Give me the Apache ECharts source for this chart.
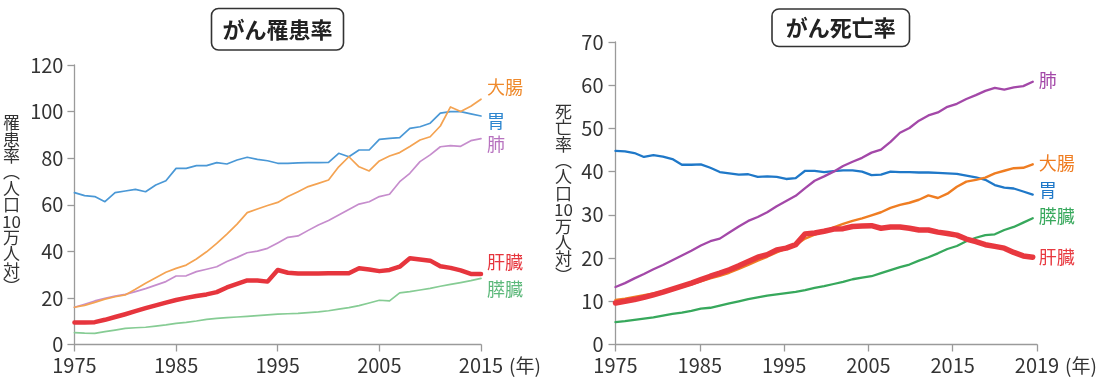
<!DOCTYPE html>
<html><head><meta charset="utf-8">
<script src="https://cdn.jsdelivr.net/npm/echarts@6/dist/echarts.min.js"></script>
<style>html,body{margin:0;padding:0;background:#fff}#c{width:1100px;height:381px}</style>
</head><body><div id="c"></div>
<script>
// ---------- data ----------
const YEARS_L = [1975,1976,1977,1978,1979,1980,1981,1982,1983,1984,1985,1986,1987,1988,1989,1990,1991,1992,1993,1994,1995,1996,1997,1998,1999,2000,2001,2002,2003,2004,2005,2006,2007,2008,2009,2010,2011,2012,2013,2014,2015];
const YEARS_R = [1975,1976,1977,1978,1979,1980,1981,1982,1983,1984,1985,1986,1987,1988,1989,1990,1991,1992,1993,1994,1995,1996,1997,1998,1999,2000,2001,2002,2003,2004,2005,2006,2007,2008,2009,2010,2011,2012,2013,2014,2015,2016,2017,2018,2019];

// がん罹患率 (incidence)
const INC_COLON   = [16.0,16.8,18.1,19.5,20.5,21.3,23.7,26.3,28.7,31.0, 32.7,34.1,36.7,39.8,43.4,47.4,51.7,56.6,58.2,59.7, 61.0,63.5,65.6,67.8,69.2,70.6,76.3,80.6,76.3,74.5, 78.8,80.9,82.4,85.0,87.8,89.2,93.8,102.0,100.0,102.3, 105.3];
const INC_STOMACH = [65.2,63.9,63.5,61.3,65.2,65.9,66.6,65.6,68.5,70.3, 75.6,75.6,76.8,76.8,78.1,77.5,79.2,80.4,79.5,78.9, 77.8,77.8,78.0,78.1,78.1,78.2,82.1,80.6,83.5,83.5, 88.1,88.5,88.8,92.8,93.5,95.0,99.3,100.0,100.0,99.0, 98.1];
const INC_LUNG    = [16.0,17.3,18.7,19.8,20.8,21.5,22.7,24.0,25.5,27.0, 29.4,29.5,31.3,32.3,33.4,35.6,37.4,39.4,40.1,41.3, 43.6,46.0,46.6,49.0,51.3,53.2,55.6,58.0,60.3,61.3, 63.5,64.5,69.9,73.5,78.5,81.4,84.9,85.4,85.1,87.5, 88.4];
const INC_LIVER   = [9.4,9.4,9.6,10.6,11.8,13.0,14.3,15.6,16.8,18.0, 19.1,20.0,20.8,21.5,22.5,24.5,26.0,27.5,27.5,27.0, 32.0,30.8,30.5,30.5,30.5,30.6,30.6,30.6,32.7,32.2, 31.5,32.0,33.4,37.0,36.5,36.0,33.6,32.9,31.8,30.3, 30.3];
const INC_PANC    = [5.1,4.9,4.8,5.5,6.2,6.9,7.2,7.4,7.9,8.4, 9.1,9.5,10.1,10.8,11.2,11.5,11.8,12.1,12.4,12.7, 13.0,13.2,13.4,13.7,14.0,14.5,15.2,15.8,16.7,17.8, 19.0,18.7,22.2,22.7,23.4,24.1,25.0,25.8,26.6,27.4, 28.4];

// がん死亡率 (mortality)
const MORT_LUNG    = [13.3,14.2,15.3,16.3,17.4,18.4,19.5,20.6,21.7,22.9, 23.9,24.5,25.9,27.3,28.6,29.5,30.6,32.0,33.2,34.4, 36.2,37.9,38.9,40.0,41.3,42.3,43.2,44.4,45.1,46.9, 49.0,50.1,51.8,53.0,53.7,55.0,55.7,56.8,57.7,58.7, 59.4,59.0,59.5,59.8,60.8];
const MORT_COLON   = [10.3,10.6,11.0,11.4,11.8,12.2,12.7,13.3,13.9,14.6, 15.3,15.9,16.6,17.5,18.4,19.4,20.3,21.3,22.2,23.0, 24.5,25.4,26.2,27.1,27.9,28.6,29.2,29.9,30.6,31.6, 32.3,32.8,33.5,34.5,33.9,34.9,36.5,37.7,38.1,38.6, 39.6,40.2,40.8,40.9,41.7];
const MORT_STOMACH = [44.8,44.7,44.3,43.4,43.8,43.5,42.9,41.6,41.6,41.7, 40.9,39.9,39.6,39.3,39.4,38.8,38.9,38.8,38.3,38.5, 40.2,40.2,39.9,40.1,40.3,40.3,40.0,39.2,39.3,40.0, 39.9,39.9,39.8,39.8,39.7,39.6,39.5,39.1,38.7,38.1, 36.9,36.3,36.1,35.4,34.7];
const MORT_LIVER   = [9.6,10.0,10.4,10.9,11.5,12.1,12.8,13.5,14.2,15.0, 15.8,16.5,17.3,18.2,19.2,20.2,20.8,21.9,22.3,23.1, 25.6,25.8,26.2,26.7,26.8,27.3,27.4,27.5,26.9,27.2, 27.2,26.9,26.5,26.5,26.0,25.7,25.3,24.4,23.8,23.1, 22.7,22.3,21.3,20.5,20.2];
const MORT_PANC    = [5.2,5.4,5.7,6.0,6.3,6.7,7.1,7.4,7.8,8.3, 8.5,9.0,9.5,10.0,10.5,10.9,11.3,11.6,11.9,12.2, 12.6,13.1,13.5,14.0,14.5,15.1,15.5,15.8,16.5,17.2, 17.9,18.5,19.4,20.2,21.1,22.1,22.8,23.9,24.7,25.3, 25.5,26.5,27.2,28.2,29.2];

const TICKS_R = ['1975','1985','1995','2005','2015','2019'];
const TITLE_L = 'がん罹患率';
const TITLE_R = 'がん死亡率';
const YNAME_L = '罹\n患\n率\n︵\n人\n口\n10\n万\n人\n対\n︶';
const YNAME_R = '死\n亡\n率\n︵\n人\n口\n10\n万\n人\n対\n︶';
const XNAME = '(年)';

// ---------- chart ----------
const FONT = '"Noto Sans CJK JP", "Noto Sans", sans-serif';
const AX = '#9a9a9a', TXT = '#333';
const chart = echarts.init(document.getElementById('c'), null, {renderer:'canvas'});

function pairs(xs, ys){ return xs.map((x,i)=>[x, ys[i]]); }
function line(name, xs, ys, color, labelColor, width, dy, xi, yi, z){
  return {
    type:'line', name, data: pairs(xs, ys), xAxisIndex: xi, yAxisIndex: yi,
    showSymbol:false, symbol:'none', z,
    lineStyle:{color, width, join:'round', cap:'round'},
    itemStyle:{color},
    emphasis:{disabled:true},
    endLabel:{show:true, formatter:'{a}', color:labelColor, fontSize:18, fontFamily:FONT, distance:6, offset:[0,dy]}
  };
}
const axisCommon = {
  axisLine:{show:true, lineStyle:{color:AX, width:1.3}},
  axisTick:{show:true, length:7, lineStyle:{color:AX, width:1.3}},
  splitLine:{show:false},
  axisLabel:{color:TXT, fontSize:20, fontFamily:FONT}
};

const option = {
  animation:false,
  backgroundColor:'#fff',
  grid:[
    {left:74.3, top:65, width:406.7, height:279.5},
    {left:615.5, top:42, width:421.5, height:302.5}
  ],
  xAxis:[
    Object.assign({}, axisCommon, {type:'value', gridIndex:0, min:1975, max:2015, interval:10,
      axisLabel:Object.assign({}, axisCommon.axisLabel, {margin:11, formatter:v=>String(v)}),
      name:XNAME, nameLocation:'end', nameGap:18,
      nameTextStyle:{color:TXT, fontSize:19, fontFamily:FONT, align:'left', verticalAlign:'top', padding:[12,0,0,0]}}),
    Object.assign({}, axisCommon, {type:'value', gridIndex:1, min:0, max:50, interval:10,
      axisLabel:Object.assign({}, axisCommon.axisLabel, {margin:11, formatter:v=>TICKS_R[Math.round(v/10)]}),
      name:XNAME, nameLocation:'end', nameGap:22,
      nameTextStyle:{color:TXT, fontSize:19, fontFamily:FONT, align:'left', verticalAlign:'top', padding:[12,0,0,0]}}),
    {type:'value', gridIndex:1, min:1975, max:2019.45, show:false}
  ],
  yAxis:[
    Object.assign({}, axisCommon, {type:'value', gridIndex:0, min:0, max:120, interval:20,
      axisLabel:Object.assign({}, axisCommon.axisLabel, {margin:11}),
      name:YNAME_L, nameLocation:'middle', nameGap:63, nameRotate:0,
      nameTextStyle:{color:TXT, fontSize:17, lineHeight:16.4, fontFamily:FONT, align:'center', verticalAlign:'middle'}}),
    Object.assign({}, axisCommon, {type:'value', gridIndex:1, min:0, max:70, interval:10,
      axisLabel:Object.assign({}, axisCommon.axisLabel, {margin:12}),
      name:YNAME_R, nameLocation:'middle', nameGap:52, nameRotate:0,
      nameTextStyle:{color:TXT, fontSize:17, lineHeight:16.4, fontFamily:FONT, align:'center', verticalAlign:'middle'}})
  ],
  series:[
    line('胃',   YEARS_L, INC_STOMACH, '#4a98d6', '#2d86cf', 1.7, 4.7, 0, 0, 2),
    line('大腸', YEARS_L, INC_COLON,   '#f4a352', '#ef8a2c', 1.7, -12, 0, 0, 3),
    line('肺',   YEARS_L, INC_LUNG,    '#c68dcd', '#b772bf', 1.7, 5.4, 0, 0, 2),
    line('膵臓', YEARS_L, INC_PANC,    '#86cc94', '#5cb87a', 1.7, 10.6, 0, 0, 2),
    line('肝臓', YEARS_L, INC_LIVER,   '#e6353d', '#e6353d', 4.5, -11.6, 0, 0, 4),

    line('胃',   YEARS_R, MORT_STOMACH, '#1f78c8', '#1f78c8', 2.3, -4.6, 2, 1, 2),
    line('肺',   YEARS_R, MORT_LUNG,    '#a348a8', '#a348a8', 2.3, -1.8, 2, 1, 2),
    line('大腸', YEARS_R, MORT_COLON,   '#ef7d22', '#ef7d22', 2.4, -1, 2, 1, 2),
    line('膵臓', YEARS_R, MORT_PANC,    '#37a85c', '#37a85c', 2.3, -2.3, 2, 1, 2),
    line('肝臓', YEARS_R, MORT_LIVER,   '#e8383f', '#e8383f', 5.5, -0.5, 2, 1, 4)
  ],
  graphic:[
    {type:'rect', shape:{x:211.5, y:8.5, width:132, height:41.5, r:7}, style:{fill:'#fff', stroke:'#333', lineWidth:1.6}},
    {type:'text', x:277.5, y:29.5, style:{text:TITLE_L, fill:'#222', font:'bold 22px '+FONT, textAlign:'center', textVerticalAlign:'middle'}},
    {type:'rect', shape:{x:772, y:9, width:137.5, height:37.5, r:7}, style:{fill:'#fff', stroke:'#333', lineWidth:1.6}},
    {type:'text', x:840.8, y:28, style:{text:TITLE_R, fill:'#222', font:'bold 22px '+FONT, textAlign:'center', textVerticalAlign:'middle'}}
  ]
};
chart.setOption(option);
</script></body></html>
